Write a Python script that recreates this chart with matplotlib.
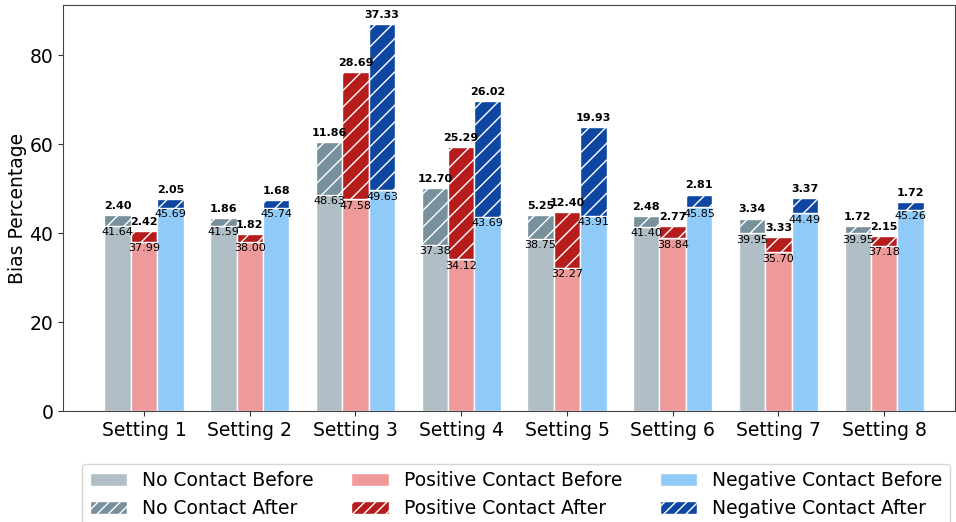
import matplotlib
matplotlib.use("Agg")
import matplotlib.pyplot as plt
from matplotlib.patches import Patch
import numpy as np

settings = ["Setting 1", "Setting 2", "Setting 3", "Setting 4",
            "Setting 5", "Setting 6", "Setting 7", "Setting 8"]

no_before = [41.64, 41.59, 48.63, 37.38, 38.75, 41.40, 39.95, 39.95]
no_after = [2.40, 1.86, 11.86, 12.70, 5.25, 2.48, 3.34, 1.72]
pos_before = [37.99, 38.00, 47.58, 34.12, 32.27, 38.84, 35.70, 37.18]
pos_after = [2.42, 1.82, 28.69, 25.29, 12.40, 2.77, 3.33, 2.15]
neg_before = [45.69, 45.74, 49.63, 43.69, 43.91, 45.85, 44.49, 45.26]
neg_after = [2.05, 1.68, 37.33, 26.02, 19.93, 2.81, 3.37, 1.72]

groups = [
    ("No Contact", no_before, no_after, "#b0bec5", "#78909c"),
    ("Positive Contact", pos_before, pos_after, "#ef9a9a", "#b71c1c"),
    ("Negative Contact", neg_before, neg_after, "#90caf9", "#0d47a1"),
]

plt.rcParams["hatch.color"] = "white"
plt.rcParams["hatch.linewidth"] = 1.0

fig = plt.figure(figsize=(9.56, 5.22), dpi=100)
ax = fig.add_axes([0.0659, 0.2126, 0.9331, 0.7778])

x = np.arange(len(settings))
width = 0.25

for i, (name, before, after, c_before, c_after) in enumerate(groups):
    pos = x + (i - 1) * width
    ax.bar(pos, before, width, color=c_before, edgecolor="white", linewidth=1)
    ax.bar(pos, after, width, bottom=before, color=c_after,
           edgecolor="white", linewidth=1, hatch="//")
    for xp, b, a in zip(pos, before, after):
        ax.annotate(f"{b:.2f}", (xp, b), xytext=(0, -1), textcoords="offset points",
                    ha="center", va="top", fontsize=8, color="black")
        ax.annotate(f"{a:.2f}", (xp, b + a), xytext=(0, 3), textcoords="offset points",
                    ha="center", va="bottom", fontsize=8, fontweight="bold", color="black")

ax.set_xticks(x)
ax.set_xticklabels(settings, fontsize=13.5)
ax.tick_params(axis="y", labelsize=13.5)
ax.set_ylabel("Bias Percentage", fontsize=13.5, labelpad=2)
ax.set_xlim(-0.766, 7.67)
ax.set_ylim(0, 91.3)
for s in ax.spines.values():
    s.set_color("#444444")
ax.tick_params(colors="#333333", labelcolor="black")

handles = []
labels = []
for name, before, after, c_before, c_after in groups:
    handles.append(Patch(facecolor=c_before, edgecolor="white"))
    labels.append(f"{name} Before")
    handles.append(Patch(facecolor=c_after, edgecolor="white", hatch="///"))
    labels.append(f"{name} After")

fig.legend(handles, labels, ncol=3, loc="upper center",
           bbox_to_anchor=(0.54, 0.130), fontsize=13.5, frameon=True)

fig.savefig("out.png", dpi=100)
